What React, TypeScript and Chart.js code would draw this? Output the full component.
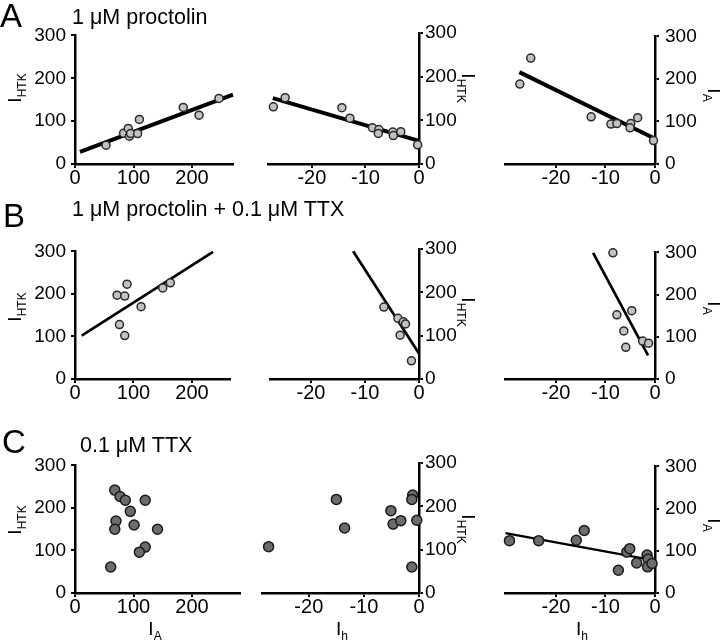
import React, { useEffect, useRef } from "react";
import { Chart, registerables } from "chart.js";

Chart.register(...registerables);

const FONT = "'Liberation Sans', Arial, Helvetica, sans-serif";
Chart.defaults.font.family = FONT;

// ---------- tick labels ----------
const yTicks = [0, 100, 200, 300];
const iaTicks = [0, 100, 200];
const ihTicks = [-20, -10, 0];

// ---------- A: 1 µM proctolin ----------
const A1_IA = [53, 83, 91, 93, 95, 107, 110, 185, 212, 246];
const A1_IHTK = [44, 72, 83, 65, 71, 71, 104, 132, 114, 153];
const A1_fitX = [8.5, 270];
const A1_fitY = [28, 162];

const A2_Ih = [-27.2, -25.0, -14.4, -12.9, -8.7, -7.5, -7.6, -4.9, -4.8, -3.4, -0.25];
const A2_IHTK = [131, 152, 129, 105, 83, 79, 70, 73, 65, 74, 44];
const A2_fitX = [-27.3, 0];
const A2_fitY = [151, 53];

const A3_Ih = [-27.3, -25.1, -12.9, -8.9, -7.7, -4.9, -5.05, -3.5, -0.3];
const A3_IA = [188, 249, 111, 94, 95, 95, 85, 109, 55];
const A3_fitX = [-27.4, -0.3];
const A3_fitY = [216, 61];

// ---------- B: 1 µM proctolin + 0.1 µM TTX ----------
const B1_IA = [72, 85, 89, 76, 85, 113, 150, 163];
const B1_IHTK = [197, 195, 223, 128, 102, 170, 214, 226];
const B1_fitX = [11.4, 236];
const B1_fitY = [102, 299];

const B2_Ih = [-6.5, -3.9, -2.9, -2.5, -3.5, -1.4];
const B2_IHTK = [166, 140, 132, 127, 101, 42];
const B2_fitX = [-12.2, 0];
const B2_fitY = [295, 59];

const B3_Ih = [-8.5, -7.7, -4.7, -6.3, -5.9, -2.5, -1.3];
const B3_IA = [299, 152, 162, 114, 75, 90, 85];
const B3_fitX = [-12.5, -1.4];
const B3_fitY = [299, 56];

// ---------- C: 0.1 µM TTX ----------
const C1_IA = [68, 77, 86, 120, 94.5, 70, 68, 101, 141, 120, 110, 61];
const C1_IHTK = [242, 227, 218, 218, 192, 169, 150, 160, 150, 108, 96, 61];

const C2_Ih = [-27.3, -15.0, -13.5, -5.1, -4.7, -3.3, -1.15, -1.3, -0.4, -1.3];
const C2_IHTK = [107, 216, 150, 190, 159, 167, 226, 216, 168, 60];

const C3_Ih = [-29.4, -23.5, -15.9, -14.3, -7.4, -5.7, -5.1, -3.7, -1.6, -1.4, -1.5, -0.6];
const C3_IA = [124, 124, 125, 148, 54, 97, 105, 71, 90, 80, 62, 70];
const C3_fitX = [-30.2, -0.5];
const C3_fitY = [142, 78];

type Area = { l: number; t: number; r: number; b: number };
type RowStyle = { radius: number; fill: string; stroke: string; lineW: number };

const rowStyles: Record<string, RowStyle> = {
  A: { radius: 4, fill: "#c2c2c2", stroke: "#2a2a2a", lineW: 4 },
  B: { radius: 4, fill: "#c2c2c2", stroke: "#2a2a2a", lineW: 2.7 },
  C: { radius: 5, fill: "#6c6c6c", stroke: "#1a1a1a", lineW: 2.3 },
};

type Spec = {
  key: string;
  x: number[];
  y: number[];
  fitX?: number[];
  fitY?: number[];
  xMin: number;
  xMax: number;
  xTicks: number[];
  area: Area;
  side: "left" | "right";
  row: "A" | "B" | "C";
  yPad: number;
};

const ROW_Y: Record<string, [number, number]> = { A: [33, 164], B: [249, 379], C: [463, 593] };

const specs: Spec[] = [
  { key: "A1", x: A1_IA, y: A1_IHTK, fitX: A1_fitX, fitY: A1_fitY, xMin: 0, xMax: 270, xTicks: iaTicks, area: { l: 75, r: 233, t: ROW_Y.A[0], b: ROW_Y.A[1] }, side: "left", row: "A", yPad: 5 },
  { key: "A2", x: A2_Ih, y: A2_IHTK, fitX: A2_fitX, fitY: A2_fitY, xMin: -28.2, xMax: 0, xTicks: ihTicks, area: { l: 268, r: 419, t: ROW_Y.A[0], b: ROW_Y.A[1] }, side: "right", row: "A", yPad: 2 },
  { key: "A3", x: A3_Ih, y: A3_IA, fitX: A3_fitX, fitY: A3_fitY, xMin: -30.3, xMax: 0, xTicks: ihTicks, area: { l: 505, r: 655, t: ROW_Y.A[0], b: ROW_Y.A[1] }, side: "right", row: "A", yPad: 6 },
  { key: "B1", x: B1_IA, y: B1_IHTK, fitX: B1_fitX, fitY: B1_fitY, xMin: 0, xMax: 265, xTicks: iaTicks, area: { l: 75, r: 230, t: ROW_Y.B[0], b: ROW_Y.B[1] }, side: "left", row: "B", yPad: 5 },
  { key: "B2", x: B2_Ih, y: B2_IHTK, fitX: B2_fitX, fitY: B2_fitY, xMin: -27.6, xMax: 0, xTicks: ihTicks, area: { l: 270, r: 419, t: ROW_Y.B[0], b: ROW_Y.B[1] }, side: "right", row: "B", yPad: 2 },
  { key: "B3", x: B3_Ih, y: B3_IA, fitX: B3_fitX, fitY: B3_fitY, xMin: -30.3, xMax: 0, xTicks: ihTicks, area: { l: 505, r: 655, t: ROW_Y.B[0], b: ROW_Y.B[1] }, side: "right", row: "B", yPad: 6 },
  { key: "C1", x: C1_IA, y: C1_IHTK, xMin: 0, xMax: 282, xTicks: iaTicks, area: { l: 75, r: 240, t: ROW_Y.C[0], b: ROW_Y.C[1] }, side: "left", row: "C", yPad: 5 },
  { key: "C2", x: C2_Ih, y: C2_IHTK, xMin: -28.5, xMax: 0, xTicks: ihTicks, area: { l: 262, r: 419, t: ROW_Y.C[0], b: ROW_Y.C[1] }, side: "right", row: "C", yPad: 2 },
  { key: "C3", x: C3_Ih, y: C3_IA, fitX: C3_fitX, fitY: C3_fitY, xMin: -30.3, xMax: 0, xTicks: ihTicks, area: { l: 505, r: 655, t: ROW_Y.C[0], b: ROW_Y.C[1] }, side: "right", row: "C", yPad: 6 },
];

const WY = 60;
const HX = 40;
const PAD = 14;

function Panel({ spec }: { spec: Spec }) {
  const ref = useRef<HTMLCanvasElement | null>(null);
  const { l, t, r, b } = spec.area;
  const left = spec.side === "left" ? l - WY : l - PAD;
  const right = spec.side === "left" ? r + PAD : r + WY;
  const top = t - PAD;
  const bottom = b + HX;
  const w = right - left;
  const h = bottom - top;

  useEffect(() => {
    if (!ref.current) return;
    const st = rowStyles[spec.row];
    const datasets: any[] = [
      {
        data: spec.x.map((xv, i) => ({ x: xv, y: spec.y[i] })),
        pointRadius: st.radius,
        pointBackgroundColor: st.fill,
        pointBorderColor: st.stroke,
        pointBorderWidth: 1.5,
        showLine: false,
        clip: false,
      },
    ];
    if (spec.fitX && spec.fitY) {
      const fy = spec.fitY;
      datasets.push({
        data: spec.fitX.map((xv, i) => ({ x: xv, y: fy[i] })),
        showLine: true,
        borderColor: "#000",
        borderWidth: st.lineW,
        pointRadius: 0,
        fill: false,
        clip: false,
      });
    }
    const gridCfg = { drawOnChartArea: false, drawTicks: true, tickLength: 4, lineWidth: 2, color: "#000" };
    const borderCfg = { display: true, color: "#000", width: 2.5 };
    const chart = new Chart(ref.current, {
      type: "scatter",
      data: { datasets },
      options: {
        animation: false,
        responsive: false,
        maintainAspectRatio: false,
        events: [],
        layout: {
          padding: {
            left: spec.side === "left" ? 0 : PAD,
            right: spec.side === "left" ? PAD : 0,
            top: PAD,
            bottom: 0,
          },
        },
        plugins: { legend: { display: false }, tooltip: { enabled: false } },
        scales: {
          x: {
            type: "linear",
            position: "bottom",
            min: spec.xMin,
            max: spec.xMax,
            afterBuildTicks: (s: any) => {
              s.ticks = spec.xTicks.map((v) => ({ value: v }));
            },
            afterFit: (s: any) => {
              s.height = HX;
            },
            grid: gridCfg,
            border: borderCfg,
            ticks: { font: { size: 20, family: FONT }, color: "#000", padding: -2, autoSkip: false, maxRotation: 0, minRotation: 0 },
          },
          y: {
            type: "linear",
            position: spec.side,
            min: 0,
            max: 300,
            afterBuildTicks: (s: any) => {
              s.ticks = yTicks.map((v) => ({ value: v }));
            },
            afterFit: (s: any) => {
              s.width = WY;
            },
            grid: gridCfg,
            border: borderCfg,
            ticks: { font: { size: 19, family: FONT }, color: "#000", padding: spec.yPad, autoSkip: false },
          },
        },
      } as any,
    });
    return () => chart.destroy();
  }, []);

  return (
    <canvas
      ref={ref}
      width={w}
      height={h}
      style={{ position: "absolute", left, top, width: w, height: h }}
    />
  );
}

function Text({ x, base, size, children }: { x: number; base: number; size: number; children: React.ReactNode }) {
  return (
    <div
      style={{
        position: "absolute",
        left: x,
        top: base - 0.8465 * size,
        fontSize: size,
        lineHeight: 1,
        fontFamily: FONT,
        whiteSpace: "nowrap",
        color: "#000",
      }}
    >
      {children}
    </div>
  );
}

function AxisTitle({ cx, cy, rot, main, sub }: { cx: number; cy: number; rot: number; main: string; sub: string }) {
  return (
    <div
      style={{
        position: "absolute",
        left: cx,
        top: cy,
        transform: `translate(-50%, -50%) rotate(${rot}deg)`,
        fontSize: 19,
        lineHeight: 1,
        fontFamily: FONT,
        whiteSpace: "nowrap",
        color: "#000",
      }}
    >
      {main}
      <span style={{ fontSize: 12, position: "relative", top: 5 }}>{sub}</span>
    </div>
  );
}

export default function App() {
  return (
    <div
      style={{
        position: "absolute",
        left: 0,
        top: 0,
        width: 720,
        height: 644,
        background: "#fff",
        overflow: "hidden",
      }}
    >
      {specs.map((s) => (
        <Panel key={s.key} spec={s} />
      ))}

      <Text x={0} base={27} size={33}>A</Text>
      <Text x={72} base={25} size={21.5}>1 μM proctolin</Text>
      <Text x={3} base={227} size={33}>B</Text>
      <Text x={72} base={217} size={21.5}>1 μM proctolin + 0.1 μM TTX</Text>
      <Text x={2} base={453} size={33}>C</Text>
      <Text x={80} base={453} size={21.5}>0.1 μM TTX</Text>

      <AxisTitle cx={14} cy={88} rot={-90} main="I" sub="HTK" />
      <AxisTitle cx={14} cy={307} rot={-90} main="I" sub="HTK" />
      <AxisTitle cx={14} cy={520} rot={-90} main="I" sub="HTK" />

      <AxisTitle cx={468} cy={88} rot={90} main="I" sub="HTK" />
      <AxisTitle cx={468} cy={312} rot={90} main="I" sub="HTK" />
      <AxisTitle cx={468} cy={529} rot={90} main="I" sub="HTK" />

      <AxisTitle cx={714} cy={95} rot={90} main="I" sub="A" />
      <AxisTitle cx={714} cy={308} rot={90} main="I" sub="A" />
      <AxisTitle cx={714} cy={525} rot={90} main="I" sub="A" />

      <AxisTitle cx={155} cy={628} rot={0} main="I" sub="A" />
      <AxisTitle cx={342} cy={628} rot={0} main="I" sub="h" />
      <AxisTitle cx={582} cy={628} rot={0} main="I" sub="h" />
    </div>
  );
}
